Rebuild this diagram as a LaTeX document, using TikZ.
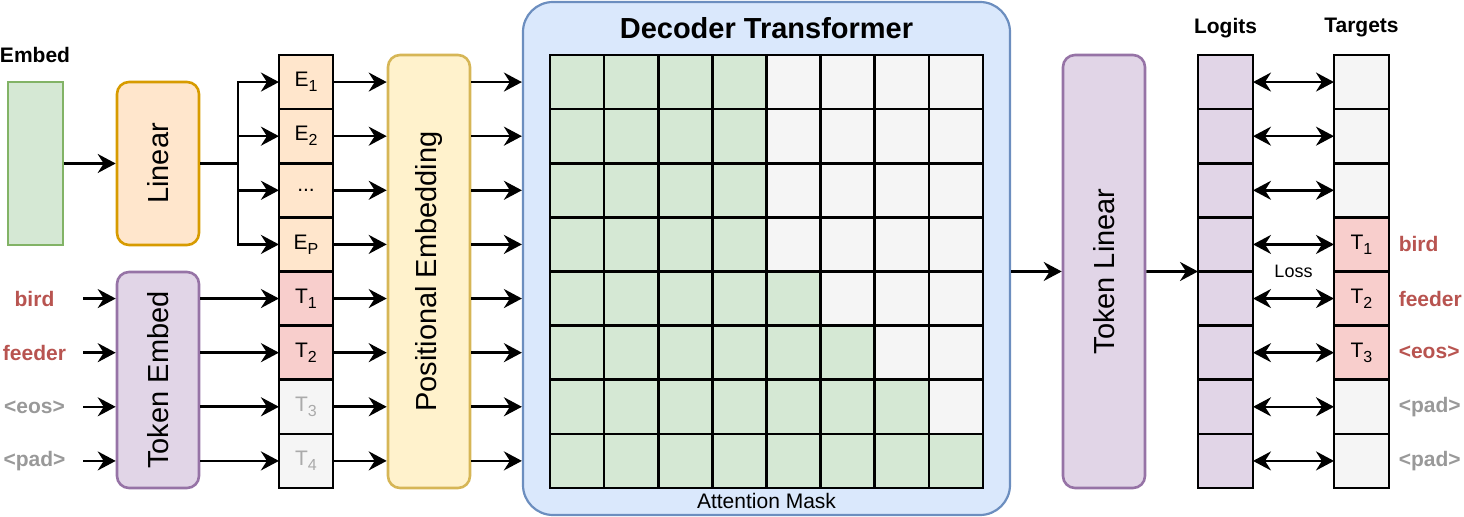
\documentclass[tikz,border=0pt]{standalone}
\usepackage{fontspec}
\setmainfont{Liberation Sans}
\usetikzlibrary{arrows.meta,positioning}

\definecolor{greenfill}{HTML}{D5E8D4}
\definecolor{greenline}{HTML}{82B366}
\definecolor{orangefill}{HTML}{FFE6CC}
\definecolor{orangeline}{HTML}{D79B00}
\definecolor{purplefill}{HTML}{E1D5E7}
\definecolor{purpleline}{HTML}{9673A6}
\definecolor{yellowfill}{HTML}{FFF2CC}
\definecolor{yellowline}{HTML}{D6B656}
\definecolor{bluefill}{HTML}{DAE8FC}
\definecolor{blueline}{HTML}{6C8EBF}
\definecolor{redfill}{HTML}{F8CECC}
\definecolor{greyfill}{HTML}{F5F5F5}
\definecolor{redtext}{HTML}{B85450}
\definecolor{greytext}{HTML}{999999}
\definecolor{celltext}{HTML}{AAAAAA}

\newcommand{\sub}[1]{\raisebox{-0.45ex}{\fontsize{8}{9}\selectfont#1}}

\tikzset{
  cell/.style={draw, minimum width=27.06pt, minimum height=27.06pt, inner sep=0pt, outer sep=0pt, font=\fontsize{10.5}{12}\selectfont},
  block/.style={draw, rounded corners=6pt, minimum width=41pt, inner sep=0pt, font=\fontsize{14.5}{17}\selectfont},
  header/.style={inner sep=0pt, font=\fontsize{10.5}{12}\selectfont\bfseries},
  word/.style={inner sep=0pt, font=\fontsize{10.5}{12}\selectfont\bfseries}
}

\begin{document}
\begin{tikzpicture}[->, x=0.5pt, y=-0.5pt, node distance=0pt, line width=1.3pt,
    >={Stealth[length=9pt,width=9.5pt,inset=3pt]}]
  \useasboundingbox (0,0) rectangle (1464,517);

  % embedding side
  \node[header] (embl) at (35,55) {Embed};
  \node[draw=greenline, fill=greenfill, line width=0.7pt, minimum width=27.5pt, minimum height=81.5pt] (emb) at (35.5,163.5) {};
  \node[block, draw=orangeline, fill=orangefill, minimum height=81.5pt] (lin) at (158,163.5) {\rotatebox{90}{Linear}};
  \node[block, draw=purpleline, fill=purplefill, minimum height=108pt] (tok) at (158,380) {\rotatebox{90}{Token Embed}};
  \coordinate (split) at (238,163.5);

  % input sequence
  \node[cell, fill=orangefill] (in1) at (306,82.06) {E\sub{1}};
  \node[cell, fill=orangefill] (in2) [below=of in1] {E\sub{2}};
  \node[cell, fill=orangefill] (in3) [below=of in2] {...};
  \node[cell, fill=orangefill] (in4) [below=of in3] {E\sub{P}};
  \node[cell, fill=redfill]    (in5) [below=of in4] {T\sub{1}};
  \node[cell, fill=redfill]    (in6) [below=of in5] {T\sub{2}};
  \node[cell, fill=greyfill, text=celltext] (in7) [below=of in6] {T\sub{3}};
  \node[cell, fill=greyfill, text=celltext] (in8) [below=of in7] {T\sub{4}};

  \node[word, text=redtext, minimum width=47.5pt]  (w5) at (34.5,298.56) {bird};
  \node[word, text=redtext, minimum width=47.5pt]  (w6) at (34.5,352.69) {feeder};
  \node[word, text=greytext, minimum width=47.5pt] (w7) at (34.5,406.81) {<eos>};
  \node[word, text=greytext, minimum width=47.5pt] (w8) at (34.5,460.94) {<pad>};

  \node[block, draw=yellowline, fill=yellowfill, minimum height=216.5pt] (pos) at (429,271.5) {\rotatebox{90}{Positional Embedding}};

  % decoder with attention mask
  \node[draw=blueline, fill=bluefill, line width=1.1pt, rounded corners=15pt, minimum width=243.5pt, minimum height=256.5pt] (dec) at (766.5,258.5) {};
  \node[inner sep=0pt, font=\fontsize{14.5}{17}\selectfont\bfseries] (dect) at (766.5,28) {Decoder Transformer};
  \foreach \r in {1,...,8}
    \foreach \c in {1,...,8} {
      \pgfmathtruncatemacro\ngreen{max(4,\r)}
      \ifnum\c>\ngreen \def\cellfill{greyfill}\else\def\cellfill{greenfill}\fi
      \node[cell, fill=\cellfill] (m-\r-\c) at ({550+54.125*(\c-0.5)},{55+54.125*(\r-0.5)}) {};
    }
  \node[inner sep=0pt, font=\fontsize{10.5}{12}\selectfont] (mask) at (766.5,501) {Attention Mask};

  \node[block, draw=purpleline, fill=purplefill, minimum height=216.5pt] (tlin) at (1104,271.5) {\rotatebox{90}{Token Linear}};

  % logits and targets
  \node[header] (lgl) at (1225.5,28) {Logits};
  \node[header] (tgl) at (1361.5,28) {Targets};
  \foreach \i in {1,...,8}
    \node[cell, fill=purplefill, minimum width=27.5pt] (lg\i) at (1225.5,{82.06+54.125*(\i-1)}) {};
  \foreach \tfill/\ttext [count=\i] in {greyfill/{}, greyfill/{}, greyfill/{}, redfill/T\sub{1}, redfill/T\sub{2}, redfill/T\sub{3}, greyfill/{}, greyfill/{}}
    \node[cell, fill=\tfill, minimum width=27.5pt] (tg\i) at (1361.5,{82.06+54.125*(\i-1)}) {\ttext};

  \node[word, text=redtext]  (r4) [right=4.25pt of tg4] {bird};
  \node[word, text=redtext]  (r5) [right=4.25pt of tg5] {feeder};
  \node[word, text=redtext]  (r6) [right=4.25pt of tg6] {<eos>};
  \node[word, text=greytext] (r7) [right=4.25pt of tg7] {<pad>};
  \node[word, text=greytext] (r8) [right=4.25pt of tg8] {<pad>};

  % connectors
  \path (emb) edge (lin)
        (lin) edge[-] (split);
  \foreach \i in {1,...,4}
    \draw (split) |- (in\i.west);
  \foreach \i in {5,...,8}
    \path (w\i) edge (tok.west |- w\i)
          (tok.east |- in\i) edge (in\i);
  \foreach \i in {1,...,8}
    \path (in\i) edge (pos.west |- in\i)
          (pos.east |- in\i) edge (dec.west |- in\i);
  \coordinate (mid) at (in4.south);
  \path (dec.east |- mid) edge (tlin.west |- mid)
        (tlin.east |- mid) edge (lg4.south west);
  \foreach \i in {1,...,8}
    \path (lg\i) edge[<->] (tg\i);
  \path (lg4.south east) -- node[inner sep=0pt, font=\fontsize{9}{11}\selectfont] (loss) {Loss} (tg4.south west);
\end{tikzpicture}
\end{document}
